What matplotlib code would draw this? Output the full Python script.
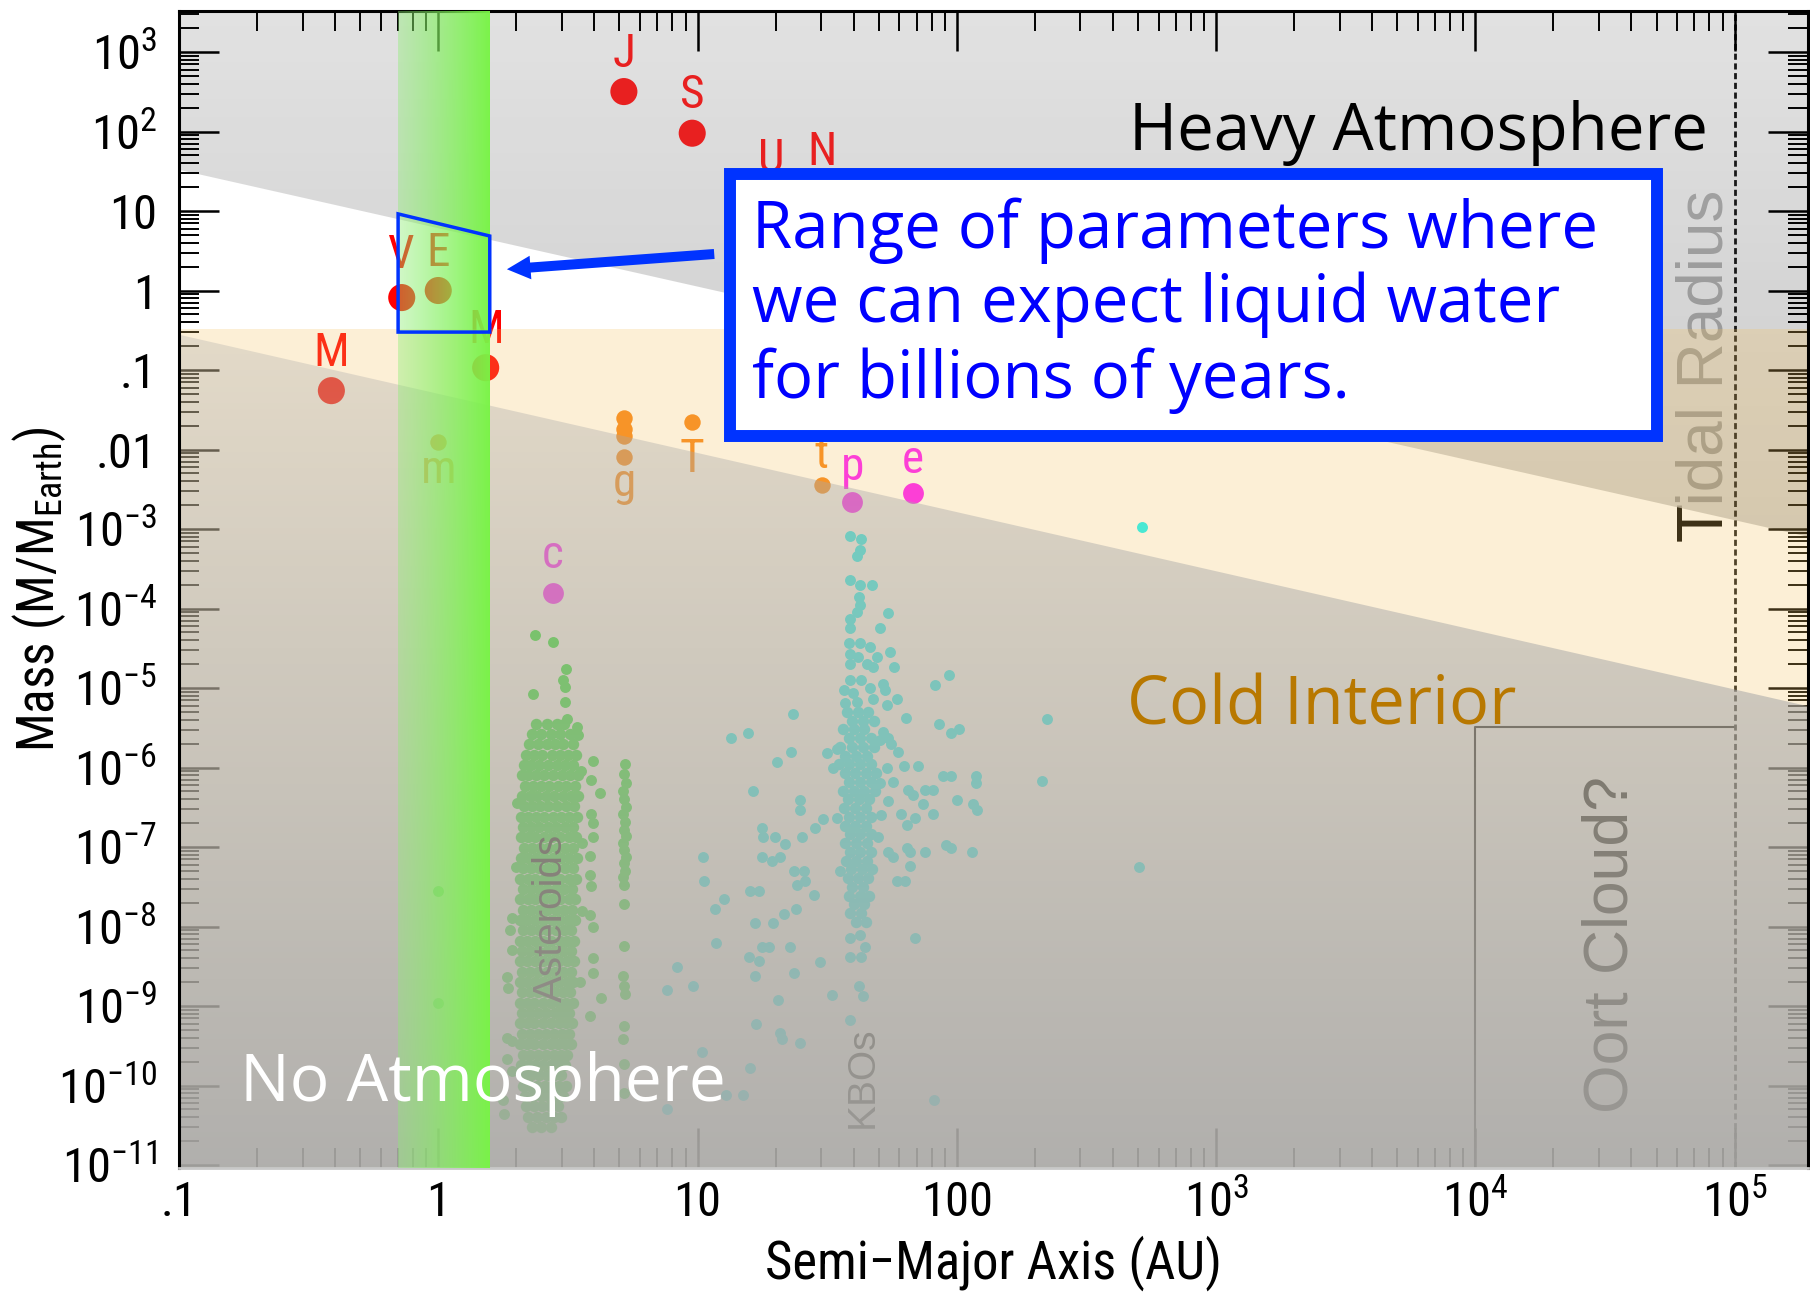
import numpy as np
import matplotlib
matplotlib.use("Agg")
import matplotlib.pyplot as plt
from matplotlib import font_manager
from matplotlib.patches import Polygon, Rectangle, FancyArrowPatch, ArrowStyle
from matplotlib.ticker import FixedLocator, FixedFormatter, LogLocator, NullFormatter

names = {f.name for f in font_manager.fontManager.ttflist}
NARROW = 'Liberation Sans'
for cand in ['Liberation Sans Narrow', 'Arial Narrow', 'Nimbus Sans Narrow', 'Roboto Condensed']:
    if cand in names:
        NARROW = cand
        break
# a narrow face lets the tick labels keep their height; the plain face has to be smaller
TICK_SIZE = 35 if NARROW != 'Liberation Sans' else 31
LABEL_SIZE = 38 if NARROW != 'Liberation Sans' else 34

plt.rcParams['font.family'] = [NARROW, 'DejaVu Sans']
plt.rcParams['mathtext.fontset'] = 'custom'
plt.rcParams['mathtext.rm'] = NARROW
plt.rcParams['mathtext.it'] = NARROW
plt.rcParams['mathtext.bf'] = NARROW
plt.rcParams['mathtext.default'] = 'regular'

# ---------------- data ----------------
xlim = (0.1, 1.92e5)
ylim = (9.25e-12, 3.28e3)

xtick_vals = [0.1, 1, 10, 100, 1e3, 1e4, 1e5]
xtick_lbls = ['.1', '1', '10', '100', r'$10^{3}$', r'$10^{4}$', r'$10^{5}$']
ytick_vals = [1e3, 1e2, 10, 1, 0.1, 0.01, 1e-3, 1e-4, 1e-5, 1e-6, 1e-7, 1e-8, 1e-9, 1e-10, 1e-11]
ytick_lbls = [r'$10^{3}$', r'$10^{2}$', '10', '1', '.1', '.01', r'$10^{-3}$', r'$10^{-4}$',
              r'$10^{-5}$', r'$10^{-6}$', r'$10^{-7}$', r'$10^{-8}$', r'$10^{-9}$',
              r'$10^{-10}$', r'$10^{-11}$']

# planets
planet_lbl = ['M', 'V', 'E', 'M', 'J', 'S', 'U', 'N']
planet_a = [0.387, 0.723, 1.0, 1.524, 5.20, 9.54, 19.2, 30.1]
planet_m = [0.055, 0.815, 1.0, 0.107, 318, 95.2, 14.5, 17.1]
planet_col = ['#ff0000', '#ff0000', '#ff0000', '#ff0000', '#e82020', '#e82020', '#e82020', '#e82020']

# dwarf planets: Ceres, Pluto, Eris
dwarf_lbl = ['c', 'p', 'e']
dwarf_a = [2.77, 39.5, 67.7]
dwarf_m = [1.57e-4, 2.2e-3, 2.8e-3]

# moons: Galilean x4, Titan, Triton, Moon
moon_lbl = ['', '', '', 'g', 'T', 't', 'm']
moon_a = [5.2, 5.2, 5.2, 5.2, 9.54, 30.1, 1.0]
moon_m = [0.0248, 0.018, 0.015, 0.008, 0.0225, 0.00359, 0.0123]

# main belt core, rows of (log10 mass, semi-major axes)
belt_rows = [
    (-5.45, [2.38, 2.62, 2.86, 3.05]),
    (-5.58, [2.30, 2.50, 2.72, 2.95, 3.22]),
    (-5.71, [2.24, 2.42, 2.62, 2.82, 3.04, 3.30]),
    (-5.84, [2.18, 2.34, 2.52, 2.74, 2.96, 3.16, 3.40]),
    (-5.97, [2.14, 2.28, 2.45, 2.64, 2.86, 3.08, 3.30]),
    (-6.10, [2.10, 2.22, 2.38, 2.56, 2.77, 2.99, 3.22, 3.46]),
    (-6.23, [2.16, 2.31, 2.48, 2.68, 2.90, 3.12, 3.36]),
    (-6.36, [2.10, 2.25, 2.41, 2.60, 2.80, 3.02, 3.26, 3.45]),
    (-6.49, [2.14, 2.30, 2.47, 2.66, 2.87, 3.10, 3.34]),
    (-6.62, [2.09, 2.22, 2.38, 2.56, 2.76, 2.98, 3.20, 3.42]),
    (-6.75, [2.13, 2.28, 2.45, 2.64, 2.85, 3.07, 3.30]),
    (-6.88, [2.08, 2.21, 2.37, 2.55, 2.74, 2.95, 3.18, 3.40]),
    (-7.01, [2.14, 2.29, 2.46, 2.65, 2.86, 3.09, 3.32]),
    (-7.14, [2.08, 2.22, 2.38, 2.56, 2.76, 2.97, 3.20, 3.44]),
    (-7.27, [2.13, 2.28, 2.45, 2.64, 2.85, 3.07, 3.30]),
    (-7.40, [2.07, 2.21, 2.37, 2.55, 2.74, 2.95, 3.18, 3.40]),
    (-7.53, [2.12, 2.27, 2.44, 2.63, 2.84, 3.06, 3.28]),
    (-7.66, [2.07, 2.21, 2.37, 2.55, 2.75, 2.96, 3.18, 3.38]),
    (-7.79, [2.12, 2.27, 2.44, 2.63, 2.84, 3.06, 3.27]),
    (-7.92, [2.06, 2.20, 2.36, 2.54, 2.74, 2.95, 3.16, 3.36]),
    (-8.05, [2.12, 2.27, 2.44, 2.63, 2.84, 3.05, 3.26]),
    (-8.18, [2.06, 2.20, 2.36, 2.54, 2.73, 2.94, 3.15, 3.35]),
    (-8.31, [2.11, 2.26, 2.43, 2.62, 2.83, 3.04, 3.25]),
    (-8.44, [2.06, 2.20, 2.36, 2.54, 2.73, 2.93, 3.14, 3.34]),
    (-8.57, [2.11, 2.26, 2.43, 2.62, 2.82, 3.03, 3.24]),
    (-8.70, [2.06, 2.20, 2.36, 2.53, 2.72, 2.92, 3.13, 3.32]),
    (-8.83, [2.11, 2.26, 2.42, 2.61, 2.81, 3.02, 3.22]),
    (-8.96, [2.06, 2.19, 2.35, 2.53, 2.72, 2.92, 3.12, 3.30]),
    (-9.09, [2.11, 2.25, 2.42, 2.61, 2.81, 3.01, 3.20]),
    (-9.22, [2.06, 2.19, 2.35, 2.53, 2.72, 2.91, 3.10, 3.28]),
    (-9.35, [2.11, 2.25, 2.42, 2.60, 2.80, 3.00, 3.18]),
    (-9.48, [2.07, 2.20, 2.35, 2.53, 2.72, 2.90, 3.08, 3.25]),
    (-9.61, [2.12, 2.26, 2.42, 2.60, 2.79, 2.98, 3.15]),
    (-9.74, [2.09, 2.22, 2.37, 2.54, 2.72, 2.90, 3.08]),
    (-9.87, [2.14, 2.28, 2.44, 2.62, 2.80, 2.98]),
    (-10.00, [2.12, 2.25, 2.40, 2.57, 2.75, 2.93, 3.10]),
    (-10.13, [2.16, 2.31, 2.48, 2.66, 2.85, 3.02]),
    (-10.26, [2.18, 2.34, 2.52, 2.70, 2.90]),
    (-10.39, [2.22, 2.40, 2.60, 2.80, 2.98]),
    (-10.52, [2.30, 2.50, 2.72]),
]
# other asteroids (a, log10 mass): big ones, outer belt, inner fringe, NEOs
ast_extra = [(2.36, -4.33), (2.77, -4.42), (3.11, -4.76), (3.02, -4.90), (3.08, -4.99),
             (2.33, -5.08), (3.08, -5.18), (3.13, -5.39), (3.42, -5.49), (3.47, -5.59),
             (3.94, -5.92), (3.90, -6.16), (4.20, -6.32), (3.90, -6.59), (3.94, -6.70),
             (3.96, -6.88), (3.85, -7.11), (3.85, -7.35), (3.90, -7.49), (3.85, -7.85),
             (3.94, -8.00), (3.94, -8.39), (3.96, -8.59), (4.23, -8.90), (3.85, -9.13),
             (1.92, -7.89), (1.89, -8.05), (1.92, -8.30), (1.835, -8.63), (1.86, -8.77),
             (1.835, -9.40), (1.92, -9.44), (1.835, -9.67), (1.92, -9.82), (1.78, -10.18),
             (1.80, -10.36), (1.0, -7.55), (1.0, -8.96), (3.55, -6.05), (3.60, -6.95),
             (3.58, -7.80), (3.52, -8.70), (2.02, -6.45), (2.00, -7.25)]
trojans = [(5.25, -5.96), (5.20, -6.08), (5.28, -6.20), (5.15, -6.30), (5.22, -6.40),
           (5.30, -6.50), (5.18, -6.58), (5.25, -6.68), (5.20, -6.78), (5.30, -6.86),
           (5.15, -6.95), (5.22, -7.04), (5.28, -7.12), (5.20, -7.20), (5.25, -7.30),
           (5.18, -7.38), (5.22, -7.48), (5.20, -7.72), (5.22, -8.25), (5.15, -8.62),
           (5.20, -8.75), (5.25, -8.85), (5.20, -9.25), (5.18, -9.42), (5.22, -9.73),
           (5.20, -10.10)]

# Kuiper belt core rows (log10 mass, a)
kbo_rows = [
    (-5.30, [37.6, 41.5, 45.5]),
    (-5.41, [39.5, 43.5, 48.0]),
    (-5.52, [36.5, 40.0, 44.0]),
    (-5.63, [38.5, 42.3, 46.5]),
    (-5.74, [35.5, 39.5, 43.5, 48.0]),
    (-5.85, [37.0, 41.0, 45.0]),
    (-5.96, [35.0, 38.5, 42.3, 46.5]),
    (-6.07, [37.0, 40.5, 44.5, 49.0]),
    (-6.18, [38.5, 42.3, 46.5]),
    (-6.29, [36.5, 40.0, 44.0, 48.5]),
    (-6.40, [38.0, 42.0, 46.0]),
    (-6.51, [36.8, 40.5, 44.5]),
    (-6.62, [38.5, 42.3, 46.5]),
    (-6.73, [37.0, 40.5, 44.5]),
    (-6.84, [38.7, 42.5, 46.5]),
    (-6.95, [37.2, 41.0, 45.0]),
    (-7.06, [38.7, 42.5, 46.5]),
    (-7.17, [37.5, 41.0, 45.0]),
    (-7.28, [39.0, 43.0, 47.0]),
    (-7.39, [38.0, 41.5, 45.5]),
    (-7.50, [39.5, 43.5]),
    (-7.61, [38.5, 42.3, 46.0]),
    (-7.72, [40.0, 44.0]),
    (-7.83, [38.7, 42.6]),
    (-7.94, [41.0, 44.5]),
]
# scattered KBOs, centaurs and detached objects (a, log10 mass)
kbo_extra = [(38.9, -3.09), (42.7, -3.13), (42.3, -3.26), (41.1, -3.34), (38.7, -3.64),
             (42.3, -3.71), (46.9, -3.70), (42.0, -3.86), (42.3, -3.96), (41.1, -4.05),
             (38.9, -4.13), (38.7, -4.25), (54.4, -4.06), (50.5, -4.24), (38.5, -4.43),
             (42.3, -4.43), (46.2, -4.48), (38.7, -4.57), (41.7, -4.61), (49.1, -4.61),
             (55.2, -4.55), (57.4, -4.73), (38.7, -4.70), (44.9, -4.70), (47.6, -4.73),
             (38.7, -4.90), (42.9, -4.90), (52.0, -4.95), (36.7, -5.03), (39.9, -5.06),
             (46.2, -5.00), (52.8, -5.03), (37.0, -5.19), (41.1, -5.17), (47.6, -5.14),
             (58.6, -5.14), (53.6, -5.22), (82.3, -4.96), (93.5, -4.84), (85.5, -5.45),
             (95.4, -5.56), (102, -5.51), (63.5, -5.38), (23.3, -5.33), (13.5, -5.63),
             (15.6, -5.56), (22.9, -5.81), (20.2, -5.93), (75.4, -6.28), (81.1, -6.28),
             (88.1, -6.11), (95.4, -6.11), (119, -6.11), (119, -6.19), (16.3, -6.29),
             (24.8, -6.41), (24.8, -6.53), (30.4, -6.65), (28.5, -6.76), (34.4, -6.64),
             (99.8, -6.41), (116, -6.46), (120, -6.53), (81.1, -6.58), (17.8, -6.76),
             (17.9, -6.88), (19.9, -6.88), (21.7, -6.96), (25.4, -6.88), (54.4, -7.06),
             (65.9, -7.06), (75.4, -7.06), (90.8, -6.97), (94.8, -7.01), (114, -7.06),
             (10.5, -7.13), (17.7, -7.13), (19.3, -7.18), (20.8, -7.13), (23.6, -7.30),
             (25.8, -7.30), (35.4, -7.30), (58.6, -7.43), (63.1, -7.43), (10.6, -7.43),
             (15.9, -7.55), (17.2, -7.55), (24.1, -7.48), (26.0, -7.43), (28.1, -7.60),
             (12.6, -7.66), (11.7, -7.78), (21.6, -7.84), (24.0, -7.78), (16.6, -7.96),
             (19.6, -7.96), (11.8, -8.21), (17.7, -8.26), (18.8, -8.26), (22.7, -8.26),
             (38.7, -8.14), (42.3, -8.11), (44.2, -8.26), (69.0, -8.14), (15.8, -8.38),
             (17.3, -8.44), (38.7, -8.38), (42.9, -8.38), (29.6, -8.45), (23.6, -8.58),
             (16.6, -8.62), (8.3, -8.51), (9.6, -8.75), (7.6, -8.80), (42.1, -8.75),
             (43.3, -8.88), (32.9, -8.86), (20.5, -8.92), (38.7, -9.17), (16.8, -9.23),
             (20.8, -9.34), (21.1, -9.42), (24.8, -9.47), (10.4, -9.58), (15.9, -9.78),
             (12.9, -10.12), (15.0, -10.12), (7.6, -10.29), (81.8, -10.18),
             (50.5, -5.66), (54.4, -5.63), (59.4, -5.81), (31.5, -5.82), (34.4, -5.77),
             (62.5, -5.98), (71.0, -5.98), (53.6, -6.01), (56.9, -6.18), (65.0, -6.28),
             (54.4, -6.42), (67.9, -6.34), (74.3, -6.46), (61.2, -6.58), (69.0, -6.64),
             (64.0, -6.72), (49.8, -6.88), (64.0, -7.01), (56.9, -7.13), (65.9, -7.24),
             (52.0, -5.55), (56.0, -5.70), (33.4, -6.01), (50.5, -6.20), (51.0, -6.60),
             (222, -5.39), (214, -6.17), (503, -7.25), (518, -2.97)]

# region boundaries (mass at the left and right axis edges)
heavy_edge_m = [33.0, 8.0e-4]
cold_edge_m = [0.278, 5.9e-6]
cream_top = 0.33
band_a = [0.70, 1.58]
quad_a = [0.70, 1.58, 1.58, 0.70]
quad_m = [9.2, 4.85, 0.30, 0.30]
oort_a = [1e4, 1e4, 1e5]
oort_m = [1e-14, 3.2e-6, 3.2e-6]
tidal_a = 1e5
arrow_tail = (11.6, 2.88)
arrow_head = (1.84, 1.85)
box_a = [13.3, 50100]
box_m = [0.0148, 29.2]
box_lines = ['Range of parameters where', 'we can expect liquid water', 'for billions of years.']
box_line_m = [3.43, 0.40, 0.0445]

BLUE = '#0033ff'
AST_GREEN = '#10e820'
KBO_CYAN = '#10f5fc'
ORANGE = '#f88517'
MAGENTA = '#ff14ff'

# ---------------- figure ----------------
fig = plt.figure(figsize=(18.1, 12.93), dpi=100)
ax = fig.add_axes([179 / 1810, 1 - 1167.7 / 1293, (1808 - 179) / 1810, (1167.7 - 11) / 1293])
ax.set_xscale('log')
ax.set_yscale('log')
ax.set_xlim(*xlim)
ax.set_ylim(*ylim)
ax.set_axisbelow(False)

# heavy atmosphere: grey gradient above the upper line
n = 512
f = np.linspace(0, 1, n)[:, None]
heavy = np.ones((n, 1, 4))
heavy[:, :, :3] = (0.854 - 0.25 * f)[:, :, None]
heavy[:, :, 3] = 0.78
heavy_poly = Polygon([(xlim[0], heavy_edge_m[0]), (xlim[1], heavy_edge_m[1]),
                      (xlim[1], 1e6), (xlim[0], 1e6)], closed=True, transform=ax.transData)
im = ax.imshow(heavy, extent=(0, 1, 0, 1), transform=ax.transAxes, aspect='auto',
               interpolation='bilinear', zorder=1)
im.set_clip_path(heavy_poly)

# tidal radius text sits under the grey
ax.text(8.98e4, 0.112, 'Tidal Radius', rotation=90, rotation_mode='anchor', ha='center',
        va='baseline', fontsize=46, family='Liberation Sans', color='black', zorder=0.9)

# small bodies
ba = [a for lm, row in belt_rows for a in row]
bm = [10 ** lm for lm, row in belt_rows for a in row]
ax.scatter(ba, bm, s=68, color=AST_GREEN, lw=0, zorder=2)
ax.scatter([p[0] for p in ast_extra + trojans], [10 ** p[1] for p in ast_extra + trojans],
           s=62, color=AST_GREEN, lw=0, zorder=2)
ka = [a for lm, row in kbo_rows for a in row]
km = [10 ** lm for lm, row in kbo_rows for a in row]
ax.scatter(ka, km, s=68, color=KBO_CYAN, lw=0, zorder=2)
ax.scatter([p[0] for p in kbo_extra], [10 ** p[1] for p in kbo_extra], s=62, color=KBO_CYAN,
           lw=0, zorder=2)

# planets, dwarfs, moons
ax.scatter(planet_a, planet_m, s=380, color=planet_col, lw=0, zorder=2.05)
ax.scatter(dwarf_a, dwarf_m, s=225, color=MAGENTA, lw=0, zorder=2.05)
ax.scatter(moon_a, moon_m, s=140, color=ORANGE, lw=0, zorder=2.05)

planet_dy = [18, 21, 18, 18, 18, 18, 19, 20]
for lbl, a, m, dy, c in zip(planet_lbl, planet_a, planet_m, planet_dy, planet_col):
    ax.annotate(lbl, (a, m), xytext=(0, dy), textcoords='offset points', ha='center',
                va='baseline', fontsize=34, color=c, zorder=2.1)
dwarf_dy = [18, 16, 15]
for lbl, a, m, dy in zip(dwarf_lbl, dwarf_a, dwarf_m, dwarf_dy):
    ax.annotate(lbl, (a, m), xytext=(0, dy), textcoords='offset points', ha='center',
                va='baseline', fontsize=34, color=MAGENTA, zorder=2.1)
moon_dy = [0, 0, 0, -28, -36, 12, -29]
for lbl, a, m, dy in zip(moon_lbl, moon_a, moon_m, moon_dy):
    if lbl:
        ax.annotate(lbl, (a, m), xytext=(0, dy), textcoords='offset points', ha='center',
                    va='baseline', fontsize=34, color=ORANGE, zorder=2.1)

# population names and Oort cloud box (under the overlays)
ax.text(3.0, 10 ** -7.89, 'Asteroids', rotation=90, rotation_mode='anchor', ha='center',
        va='baseline', fontsize=29, family='Liberation Sans', color='black', zorder=2.2)
ax.text(47.5, 10 ** -9.89, 'KBOs', rotation=90, rotation_mode='anchor', ha='center',
        va='baseline', fontsize=28, family='Liberation Sans', color='black', zorder=2.2)
ax.text(3.87e4, 10 ** -8.23, 'Oort Cloud?', rotation=90, rotation_mode='anchor', ha='center',
        va='baseline', fontsize=45, family='Liberation Sans', color='black', zorder=2.2)
ax.plot(oort_a, oort_m, color='black', lw=1.5, zorder=2.2)
ax.plot([tidal_a, tidal_a], [1e-14, 1e6], color='#181818', lw=2.0, ls=(0, (2.2, 1.3)), zorder=2.2)

# cold interior tint and no-atmosphere gradient (on top of points and ticks)
ax.axhspan(1e-14, cream_top, color=(0.96, 0.76, 0.36), alpha=0.25, lw=0, zorder=3)
lower = np.ones((n, 1, 4))
lower[:, :, :3] = 0.66
lower[:, :, 3] = np.clip(0.067 + 0.833 * f, 0, 0.92)
lower_poly = Polygon([(xlim[0], cold_edge_m[0]), (xlim[1], cold_edge_m[1]),
                      (xlim[1], 1e-14), (xlim[0], 1e-14)], closed=True, transform=ax.transData)
im2 = ax.imshow(lower, extent=(0, 1, 0, 1), transform=ax.transAxes, aspect='auto',
                interpolation='bilinear', zorder=3.1)
im2.set_clip_path(lower_poly)

# habitable band
to_ax = ax.transAxes.inverted()
fx0 = to_ax.transform(ax.transData.transform((band_a[0], 1.0)))[0]
fx1 = to_ax.transform(ax.transData.transform((band_a[1], 1.0)))[0]
g = np.linspace(0, 1, 256)[None, :, None]
left = np.array([0.55, 0.93, 0.45, 0.40])
right = np.array([0.47, 0.96, 0.27, 0.97])
band = left + (right - left) * g
ax.imshow(band, extent=(fx0, fx1, 0, 1), transform=ax.transAxes, aspect='auto',
          interpolation='bilinear', zorder=3.5)

# annotations
ax.add_patch(Polygon(list(zip(quad_a, quad_m)), closed=True, fill=False, ec=BLUE, lw=2.5,
                     zorder=4))
ax.add_patch(FancyArrowPatch(arrow_tail, arrow_head,
                             arrowstyle=ArrowStyle.Simple(head_length=1.7, head_width=1.7,
                                                          tail_width=0.72),
                             mutation_scale=10, color=BLUE, lw=0, shrinkA=0, shrinkB=0,
                             zorder=4))
ax.add_patch(Rectangle((box_a[0], box_m[0]), box_a[1] - box_a[0], box_m[1] - box_m[0],
                       fc='white', ec=BLUE, lw=8.6, zorder=4))
for line, m in zip(box_lines, box_line_m):
    ax.text(16.2, m, line, ha='left', va='baseline', fontsize=47, family='Open Sans',
            color='#0000ff', zorder=4.5)

ax.text(7.87e4, 58.5, 'Heavy Atmosphere', ha='right', va='baseline', fontsize=47,
        family='Open Sans', color='black', zorder=4.5)
ax.text(453, 3.43e-6, 'Cold Interior', ha='left', va='baseline', fontsize=48,
        family='Open Sans', color='#b87800', zorder=4.5)
ax.text(0.172, 6.3e-11, 'No Atmosphere', ha='left', va='baseline', fontsize=47.5,
        family='Open Sans', color='white', zorder=4.5)

# axes, ticks
ax.xaxis.set_major_locator(FixedLocator(xtick_vals))
ax.xaxis.set_major_formatter(FixedFormatter(xtick_lbls))
ax.yaxis.set_major_locator(FixedLocator(ytick_vals))
ax.yaxis.set_major_formatter(FixedFormatter(ytick_lbls))
ax.xaxis.set_minor_locator(LogLocator(base=10, subs=np.arange(2, 10), numticks=60))
ax.yaxis.set_minor_locator(LogLocator(base=10, subs=np.arange(2, 10), numticks=60))
ax.xaxis.set_minor_formatter(NullFormatter())
ax.yaxis.set_minor_formatter(NullFormatter())
ax.tick_params(which='both', direction='in', top=True, right=True, colors='black')
ax.tick_params(which='major', length=28.8, width=1.8)
ax.tick_params(which='minor', length=14.4, width=1.4)
ax.tick_params(axis='x', which='major', labelsize=TICK_SIZE, pad=9)
ax.tick_params(axis='y', which='major', labelsize=TICK_SIZE, pad=16)

for side in ['left', 'top', 'right']:
    ax.spines[side].set_linewidth(2.2)
    ax.spines[side].set_zorder(3.4)
ax.spines['bottom'].set_color('#c8c8c8')
ax.spines['bottom'].set_linewidth(2.0)
ax.spines['bottom'].set_zorder(3.4)

ax.set_xlabel('Semi\u2212Major Axis (AU)', fontsize=LABEL_SIZE)
ax.xaxis.set_label_coords(0.4997, -0.0962)
ax.xaxis.label.set_va('baseline')
ax.set_ylabel(r'Mass (M/M$_{\mathrm{Earth}}$)', fontsize=LABEL_SIZE - 1)
ax.yaxis.set_label_coords(-0.077, 0.5003)
ax.yaxis.label.set_rotation_mode('anchor')
ax.yaxis.label.set_va('baseline')
ax.yaxis.label.set_ha('center')

ax.set_xlim(*xlim)
ax.set_ylim(*ylim)
fig.savefig('out.png', dpi=100)
